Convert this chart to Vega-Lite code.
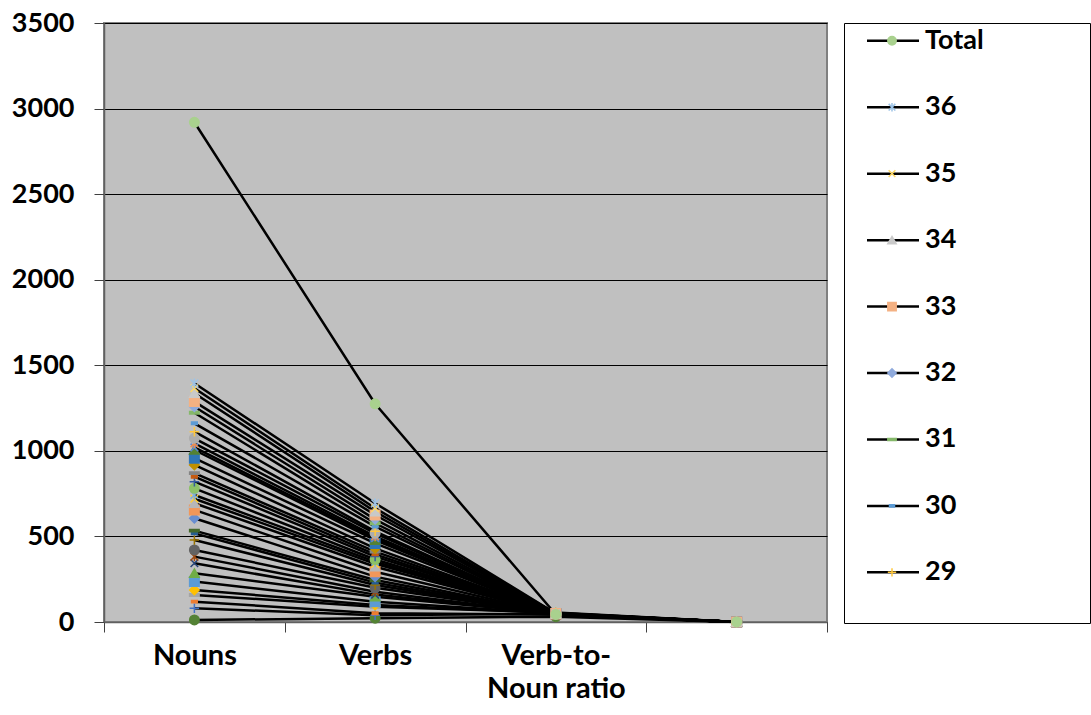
{
  "$schema": "https://vega.github.io/schema/vega-lite/v6.json",
  "padding": {"left": 10, "top": 8, "right": 0, "bottom": 0},
  "background": "white",
  "spacing": 14,
  "config": {"font": "Lato", "view": {"stroke": null}},
  "data": {"values": [
    {"s": "1", "Nouns": 12, "Verbs": 22, "R": 31, "F": 0.31},
    {"s": "2", "Nouns": 80, "Verbs": 40, "R": 50, "F": 0.5},
    {"s": "3", "Nouns": 119, "Verbs": 51, "R": 43, "F": 0.43},
    {"s": "4", "Nouns": 158, "Verbs": 89, "R": 56, "F": 0.56},
    {"s": "5", "Nouns": 187, "Verbs": 100, "R": 53, "F": 0.53},
    {"s": "6", "Nouns": 236, "Verbs": 119, "R": 50, "F": 0.5},
    {"s": "7", "Nouns": 285, "Verbs": 148, "R": 52, "F": 0.52},
    {"s": "8", "Nouns": 343, "Verbs": 160, "R": 47, "F": 0.47},
    {"s": "9", "Nouns": 382, "Verbs": 177, "R": 46, "F": 0.46},
    {"s": "10", "Nouns": 421, "Verbs": 200, "R": 48, "F": 0.48},
    {"s": "11", "Nouns": 479, "Verbs": 216, "R": 45, "F": 0.45},
    {"s": "12", "Nouns": 518, "Verbs": 230, "R": 44, "F": 0.44},
    {"s": "13", "Nouns": 534, "Verbs": 245, "R": 46, "F": 0.46},
    {"s": "14", "Nouns": 606, "Verbs": 265, "R": 44, "F": 0.44},
    {"s": "15", "Nouns": 655, "Verbs": 294, "R": 45, "F": 0.45},
    {"s": "16", "Nouns": 694, "Verbs": 323, "R": 47, "F": 0.47},
    {"s": "17", "Nouns": 720, "Verbs": 340, "R": 47, "F": 0.47},
    {"s": "18", "Nouns": 742, "Verbs": 352, "R": 47, "F": 0.47},
    {"s": "19", "Nouns": 781, "Verbs": 365, "R": 47, "F": 0.47},
    {"s": "20", "Nouns": 820, "Verbs": 382, "R": 47, "F": 0.47},
    {"s": "21", "Nouns": 849, "Verbs": 395, "R": 47, "F": 0.47},
    {"s": "22", "Nouns": 870, "Verbs": 411, "R": 47, "F": 0.47},
    {"s": "23", "Nouns": 918, "Verbs": 430, "R": 47, "F": 0.47},
    {"s": "24", "Nouns": 957, "Verbs": 459, "R": 48, "F": 0.48},
    {"s": "25", "Nouns": 1005, "Verbs": 479, "R": 48, "F": 0.48},
    {"s": "26", "Nouns": 1020, "Verbs": 490, "R": 48, "F": 0.48},
    {"s": "27", "Nouns": 1044, "Verbs": 500, "R": 48, "F": 0.48},
    {"s": "28", "Nouns": 1073, "Verbs": 518, "R": 48, "F": 0.48},
    {"s": "29", "Nouns": 1112, "Verbs": 530, "R": 48, "F": 0.48},
    {"s": "30", "Nouns": 1161, "Verbs": 557, "R": 48, "F": 0.48},
    {"s": "31", "Nouns": 1223, "Verbs": 577, "R": 47, "F": 0.47},
    {"s": "32", "Nouns": 1258, "Verbs": 600, "R": 48, "F": 0.48},
    {"s": "33", "Nouns": 1288, "Verbs": 625, "R": 49, "F": 0.49},
    {"s": "34", "Nouns": 1337, "Verbs": 645, "R": 48, "F": 0.48},
    {"s": "35", "Nouns": 1366, "Verbs": 665, "R": 49, "F": 0.49},
    {"s": "36", "Nouns": 1395, "Verbs": 694, "R": 50, "F": 0.5},
    {"s": "Total", "Nouns": 2920, "Verbs": 1275, "R": 44, "F": 0.44}
  ]},
  "hconcat": [
    {
      "width": 723,
      "height": 599,
      "view": {"fill": "#C0C0C0", "stroke": "#808080", "strokeWidth": 2},
      "transform": [{"fold": ["Nouns", "Verbs", "R", "F"], "as": ["cat", "v"]}],
      "encoding": {
        "x": {
          "field": "cat", "type": "nominal", "sort": ["Nouns", "Verbs", "R", "F"],
          "scale": {"type": "band", "paddingInner": 0, "paddingOuter": 0},
          "axis": {
            "title": null, "labelAngle": 0, "tickBand": "extent", "tickSize": 10,
            "tickColor": "#404040", "domainColor": "#606060", "domainWidth": 1.5,
            "labelFont": "Lato", "labelFontSize": 29, "labelFontWeight": "bold", "labelColor": "black",
            "labelPadding": 9, "labelLineHeight": 33,
            "labelExpr": "datum.label == 'R' ? ['Verb-to-', 'Noun ratio'] : (datum.label == 'F' ? '' : datum.label)"
          }
        },
        "y": {
          "field": "v", "type": "quantitative",
          "scale": {"domain": [0, 3500], "nice": false, "zero": true},
          "axis": {
            "title": null, "values": [0, 500, 1000, 1500, 2000, 2500, 3000, 3500], "format": "d",
            "grid": true, "gridColor": "black", "gridWidth": 1,
            "tickSize": 10, "tickColor": "#404040", "domainColor": "#606060", "domainWidth": 1.5,
            "labelFont": "Lato", "labelFontSize": 27, "labelFontWeight": "bold", "labelColor": "black",
            "labelPadding": 20
          }
        }
      },
      "layer": [
        {
          "mark": {"type": "line", "strokeWidth": 2.5},
          "encoding": {
            "detail": {"field": "s", "type": "nominal"},
            "color": {"value": "black"},
            "order": {"value": null}
          }
        },
        {
          "mark": {"type": "point", "filled": true, "size": 90, "strokeWidth": 1.5, "opacity": 1},
          "encoding": {
            "fill": {"field": "s", "type": "nominal", "legend": null,
              "scale": {"domain": ["1","2","3","4","5","6","7","8","9","10","11","12","13","14","15","16","17","18","19","20","21","22","23","24","25","26","27","28","29","30","31","32","33","34","35","36","Total"],
                "range": ["#548235","#4472C4","#ED7D31","#A5A5A5","#FFC000","#5B9BD5","#70AD47","#264478","#9E480E","#636363","#997300","#255E91","#43682B","#698ED0","#F1975A","#B7B7B7","#FFCD33","#7CAFDD","#8CC168","#335AA1","#C55A11","#848484","#BF9000","#2E75B6","#548235","#5A86D6","#F08B4A","#ADADAD","#FFC83D","#5B9BD5","#85B86A","#8FAADC","#F4B183","#C9C9C9","#FFD966","#9DC3E6","#A9D18E"]}},
            "stroke": {"field": "s", "type": "nominal", "legend": null,
              "scale": {"domain": ["1","2","3","4","5","6","7","8","9","10","11","12","13","14","15","16","17","18","19","20","21","22","23","24","25","26","27","28","29","30","31","32","33","34","35","36","Total"],
                "range": ["#548235","#4472C4","#ED7D31","#A5A5A5","#FFC000","#5B9BD5","#70AD47","#264478","#9E480E","#636363","#997300","#255E91","#43682B","#698ED0","#F1975A","#B7B7B7","#FFCD33","#7CAFDD","#8CC168","#335AA1","#C55A11","#848484","#BF9000","#2E75B6","#548235","#5A86D6","#F08B4A","#ADADAD","#FFC83D","#5B9BD5","#85B86A","#8FAADC","#F4B183","#C9C9C9","#FFD966","#9DC3E6","#A9D18E"]}},
            "shape": {"field": "s", "type": "nominal", "legend": null,
              "scale": {"domain": ["1","2","3","4","5","6","7","8","9","10","11","12","13","14","15","16","17","18","19","20","21","22","23","24","25","26","27","28","29","30","31","32","33","34","35","36","Total"],
                "range": ["circle","M-1,0L1,0M0,-1L0,1","M-0.6,-0.25L0.6,-0.25L0.6,0.25L-0.6,0.25Z","M-1,-0.25L1,-0.25L1,0.25L-1,0.25Z","diamond","square","triangle-up","M-0.8,-0.8L0.8,0.8M-0.8,0.8L0.8,-0.8","M-0.8,-0.8L0.8,0.8M-0.8,0.8L0.8,-0.8M0,-1L0,1",
                  "circle","M-1,0L1,0M0,-1L0,1","M-0.6,-0.25L0.6,-0.25L0.6,0.25L-0.6,0.25Z","M-1,-0.25L1,-0.25L1,0.25L-1,0.25Z","diamond","square","triangle-up","M-0.8,-0.8L0.8,0.8M-0.8,0.8L0.8,-0.8","M-0.8,-0.8L0.8,0.8M-0.8,0.8L0.8,-0.8M0,-1L0,1",
                  "circle","M-1,0L1,0M0,-1L0,1","M-0.6,-0.25L0.6,-0.25L0.6,0.25L-0.6,0.25Z","M-1,-0.25L1,-0.25L1,0.25L-1,0.25Z","diamond","square","triangle-up","M-0.8,-0.8L0.8,0.8M-0.8,0.8L0.8,-0.8","M-0.8,-0.8L0.8,0.8M-0.8,0.8L0.8,-0.8M0,-1L0,1",
                  "circle","M-1,0L1,0M0,-1L0,1","M-0.6,-0.25L0.6,-0.25L0.6,0.25L-0.6,0.25Z","M-1,-0.25L1,-0.25L1,0.25L-1,0.25Z","diamond","square","triangle-up","M-0.8,-0.8L0.8,0.8M-0.8,0.8L0.8,-0.8","M-0.8,-0.8L0.8,0.8M-0.8,0.8L0.8,-0.8M0,-1L0,1","circle"]}}
          }
        }
      ]
    },
    {
      "width": 246,
      "height": 600,
      "view": {"fill": "white", "stroke": "#000000", "strokeWidth": 1},
      "transform": [{"filter": {"field": "s", "oneOf": ["Total","36","35","34","33","32","31","30","29"]}}],
      "encoding": {
        "y": {"field": "s", "type": "nominal", "sort": ["Total","36","35","34","33","32","31","30","29"],
          "scale": {"type": "point", "padding": 0.515, "align": 0.26}, "axis": null}
      },
      "layer": [
        {
          "mark": {"type": "rule", "color": "black", "strokeWidth": 2.5},
          "encoding": {
            "x": {"datum": 23, "type": "quantitative", "scale": {"domain": [0, 246], "nice": false, "zero": true}, "axis": null},
            "x2": {"datum": 75}
          }
        },
        {
          "mark": {"type": "point", "filled": true, "size": 70, "strokeWidth": 1.5, "opacity": 1},
          "encoding": {
            "x": {"datum": 48, "type": "quantitative"},
            "fill": {"field": "s", "type": "nominal", "legend": null,
              "scale": {"domain": ["1","2","3","4","5","6","7","8","9","10","11","12","13","14","15","16","17","18","19","20","21","22","23","24","25","26","27","28","29","30","31","32","33","34","35","36","Total"],
                "range": ["#548235","#4472C4","#ED7D31","#A5A5A5","#FFC000","#5B9BD5","#70AD47","#264478","#9E480E","#636363","#997300","#255E91","#43682B","#698ED0","#F1975A","#B7B7B7","#FFCD33","#7CAFDD","#8CC168","#335AA1","#C55A11","#848484","#BF9000","#2E75B6","#548235","#5A86D6","#F08B4A","#ADADAD","#FFC83D","#5B9BD5","#85B86A","#8FAADC","#F4B183","#C9C9C9","#FFD966","#9DC3E6","#A9D18E"]}},
            "stroke": {"field": "s", "type": "nominal", "legend": null,
              "scale": {"domain": ["1","2","3","4","5","6","7","8","9","10","11","12","13","14","15","16","17","18","19","20","21","22","23","24","25","26","27","28","29","30","31","32","33","34","35","36","Total"],
                "range": ["#548235","#4472C4","#ED7D31","#A5A5A5","#FFC000","#5B9BD5","#70AD47","#264478","#9E480E","#636363","#997300","#255E91","#43682B","#698ED0","#F1975A","#B7B7B7","#FFCD33","#7CAFDD","#8CC168","#335AA1","#C55A11","#848484","#BF9000","#2E75B6","#548235","#5A86D6","#F08B4A","#ADADAD","#FFC83D","#5B9BD5","#85B86A","#8FAADC","#F4B183","#C9C9C9","#FFD966","#9DC3E6","#A9D18E"]}},
            "shape": {"field": "s", "type": "nominal", "legend": null,
              "scale": {"domain": ["1","2","3","4","5","6","7","8","9","10","11","12","13","14","15","16","17","18","19","20","21","22","23","24","25","26","27","28","29","30","31","32","33","34","35","36","Total"],
                "range": ["circle","M-1,0L1,0M0,-1L0,1","M-0.6,-0.25L0.6,-0.25L0.6,0.25L-0.6,0.25Z","M-1,-0.25L1,-0.25L1,0.25L-1,0.25Z","diamond","square","triangle-up","M-0.8,-0.8L0.8,0.8M-0.8,0.8L0.8,-0.8","M-0.8,-0.8L0.8,0.8M-0.8,0.8L0.8,-0.8M0,-1L0,1",
                  "circle","M-1,0L1,0M0,-1L0,1","M-0.6,-0.25L0.6,-0.25L0.6,0.25L-0.6,0.25Z","M-1,-0.25L1,-0.25L1,0.25L-1,0.25Z","diamond","square","triangle-up","M-0.8,-0.8L0.8,0.8M-0.8,0.8L0.8,-0.8","M-0.8,-0.8L0.8,0.8M-0.8,0.8L0.8,-0.8M0,-1L0,1",
                  "circle","M-1,0L1,0M0,-1L0,1","M-0.6,-0.25L0.6,-0.25L0.6,0.25L-0.6,0.25Z","M-1,-0.25L1,-0.25L1,0.25L-1,0.25Z","diamond","square","triangle-up","M-0.8,-0.8L0.8,0.8M-0.8,0.8L0.8,-0.8","M-0.8,-0.8L0.8,0.8M-0.8,0.8L0.8,-0.8M0,-1L0,1",
                  "circle","M-1,0L1,0M0,-1L0,1","M-0.6,-0.25L0.6,-0.25L0.6,0.25L-0.6,0.25Z","M-1,-0.25L1,-0.25L1,0.25L-1,0.25Z","diamond","square","triangle-up","M-0.8,-0.8L0.8,0.8M-0.8,0.8L0.8,-0.8","M-0.8,-0.8L0.8,0.8M-0.8,0.8L0.8,-0.8M0,-1L0,1","circle"]}}
          }
        },
        {
          "mark": {"type": "text", "align": "left", "baseline": "middle", "font": "Lato", "fontSize": 27, "fontWeight": "bold", "color": "black"},
          "encoding": {
            "x": {"datum": 81, "type": "quantitative"},
            "text": {"field": "s", "type": "nominal"}
          }
        }
      ]
    }
  ]
}
